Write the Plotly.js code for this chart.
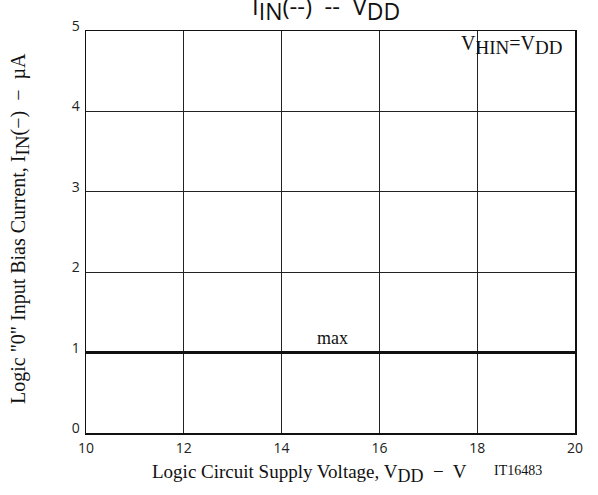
<!DOCTYPE html>
<html><head><meta charset="utf-8">
<script src="https://cdn.plot.ly/plotly-3.0.1.min.js"></script>
<style>html,body{margin:0;padding:0;background:#fff;}#chart{width:598px;height:495px;}</style>
</head><body><div id="chart"></div>
<script>
const vdd = [10, 20];
const iinMax = [1, 1];
const xTicks = [10, 12, 14, 16, 18, 20];
const yTicks = [0, 1, 2, 3, 4, 5];

const L = 86, R = 23, T = 31, B = 62, W = 598, H = 495;
const pw = W - L - R, ph = H - T - B;
function px(x){ return (x - L) / pw; }
function py(y){ return (H - B - y) / ph; }
function sb(t, s){ return '<sub><span style="font-size:' + s + 'px">' + t + '</span></sub>'; }

const sans = 'Open Sans, Liberation Sans, sans-serif';
const serif = 'Liberation Serif, Times New Roman, serif';

const data = [{
  x: vdd, y: iinMax, mode: 'lines', type: 'scatter',
  line: {color: '#111', width: 3}, hoverinfo: 'skip', showlegend: false, cliponaxis: false
}];

const layout = {
  width: W, height: H,
  margin: {l: L, r: R, t: T, b: B},
  paper_bgcolor: '#fff', plot_bgcolor: '#fff',
  showlegend: false,
  xaxis: {
    range: [10, 20], tickvals: xTicks, ticktext: xTicks.map(String),
    showgrid: true, gridcolor: '#222', gridwidth: 1,
    zeroline: false, showline: true, mirror: true, linecolor: '#111', linewidth: 1.5,
    ticks: '', ticklen: 0, tickfont: {family: sans, size: 14, color: '#222'},
    ticklabelstandoff: 2,
    fixedrange: true
  },
  yaxis: {
    range: [0, 5], tickvals: yTicks, ticktext: yTicks.map(String),
    showgrid: true, gridcolor: '#222', gridwidth: 1,
    zeroline: false, showline: true, mirror: true, linecolor: '#111', linewidth: 1.5,
    ticks: '', ticklen: 0, tickfont: {family: sans, size: 14, color: '#222'},
    ticklabelshift: -5, ticklabelstandoff: 2,
    fixedrange: true
  },
  annotations: [
    {xref: 'paper', yref: 'paper', x: px(326), y: py(8), xanchor: 'center', yanchor: 'middle',
     text: 'I' + sb('IN', 23) + '(--)  --  V' + sb('DD', 23), showarrow: false,
     font: {family: sans, size: 24, color: '#111'}},
    {xref: 'paper', yref: 'paper', x: px(20), y: py(229), xanchor: 'center', yanchor: 'middle',
     textangle: -90, text: 'Logic "0" Input Bias Current, I' + sb('IN', 19) + '(−)  −  µA', showarrow: false,
     font: {family: serif, size: 20, color: '#111'}},
    {xref: 'paper', yref: 'paper', x: px(309), y: py(473), xanchor: 'center', yanchor: 'middle',
     text: 'Logic Circuit Supply Voltage, V' + sb('DD', 18) + '  −  V', showarrow: false,
     font: {family: serif, size: 19, color: '#111'}},
    {xref: 'paper', yref: 'paper', x: px(518), y: py(470), xanchor: 'center', yanchor: 'middle',
     text: 'IT16483', showarrow: false,
     font: {family: serif, size: 14, color: '#111'}},
    {xref: 'paper', yref: 'paper', x: px(511), y: py(45), xanchor: 'center', yanchor: 'middle',
     text: 'V' + sb('HIN', 19) + '=V' + sb('DD', 19), showarrow: false,
     font: {family: serif, size: 20, color: '#111'}},
    {xref: 'x', yref: 'y', x: 15.05, y: 1, xanchor: 'center', yanchor: 'bottom', yshift: 3,
     text: 'max', showarrow: false,
     font: {family: serif, size: 18, color: '#111'}},
    {xref: 'paper', yref: 'paper', x: px(290), y: py(489), xanchor: 'center', yanchor: 'top',
     text: 'V' + sb('HIN', 20) + '(--)  --  Ta', showarrow: false,
     font: {family: sans, size: 22, color: '#111'}}
  ]
};

Plotly.newPlot('chart', data, layout, {displayModeBar: false, staticPlot: true});
</script></body></html>
